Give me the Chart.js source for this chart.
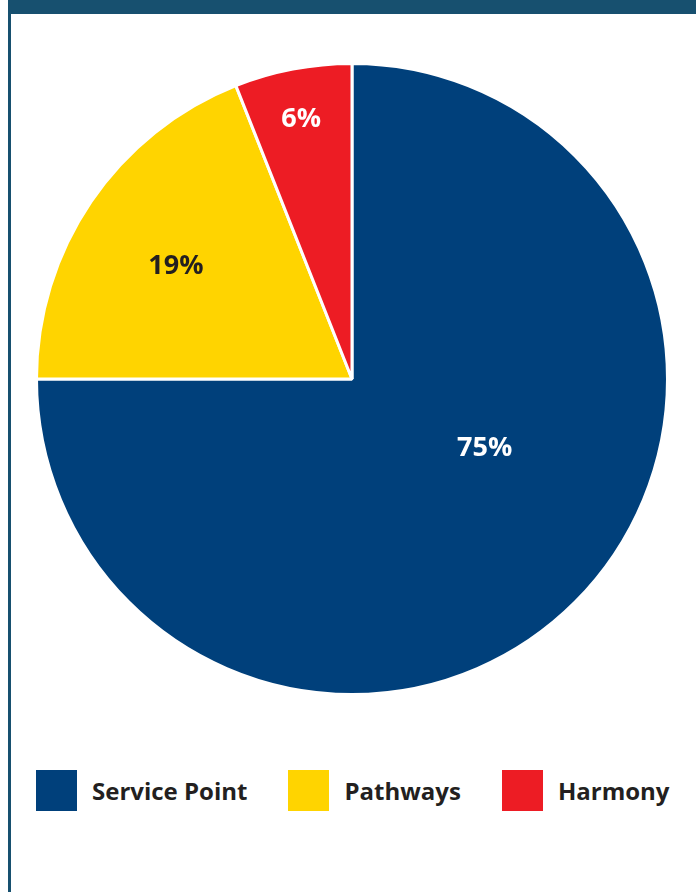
<!DOCTYPE html>
<html>
<head>
<meta charset="utf-8">
<script src="https://cdn.jsdelivr.net/npm/chart.js@4"></script>
<style>
  html, body { margin: 0; padding: 0; background: #fff; }
  body { width: 696px; height: 892px; position: relative; overflow: hidden; font-family: "Open Sans", sans-serif; }
  .top-bar { position: absolute; left: 8px; top: 0; right: 0; height: 14px; background: #17506f; }
  .side-bar { position: absolute; left: 8px; top: 14px; bottom: 0; width: 3px; background: #17506f; }
  .chart-box { position: absolute; left: 35px; top: 62px; width: 634px; height: 634px; }
  .legend { position: absolute; left: 36px; top: 770px; width: 660px; display: flex; align-items: center; white-space: nowrap; }
  .legend-item { display: flex; align-items: center; flex-shrink: 0; margin-right: 41px; }
  .legend-swatch { width: 41px; height: 41px; margin-right: 15px; flex-shrink: 0; }
  .legend-text { font-weight: 700; font-size: 24px; color: #231f20; line-height: 41px; }
</style>
</head>
<body>
<div class="top-bar"></div>
<div class="side-bar"></div>
<div class="chart-box"><canvas id="pieChart"></canvas></div>
<div class="legend" id="legend"></div>

<script>
// Share of records by system
const categories = ['Service Point', 'Pathways', 'Harmony'];
const shares = [75, 19, 6];
const sliceColors = ['#00407b', '#ffd400', '#ed1c24'];
const labelColors = ['#ffffff', '#231f20', '#ffffff'];

// where each percentage sits: fraction along the slice sweep, fraction of radius
const labelPlacement = [
  { along: 0.436, radius: 0.475 },
  { along: 0.478, radius: 0.663 },
  { along: 0.486, radius: 0.838 }
];

const pctLabels = {
  id: 'pctLabels',
  afterDatasetsDraw(chart) {
    const ctx = chart.ctx;
    const meta = chart.getDatasetMeta(0);
    ctx.save();
    ctx.font = '700 27px "Open Sans"';
    ctx.textAlign = 'center';
    ctx.textBaseline = 'middle';
    meta.data.forEach((arc, i) => {
      const p = arc.getProps(['x', 'y', 'startAngle', 'endAngle', 'outerRadius'], true);
      const place = labelPlacement[i];
      const a = p.startAngle + (p.endAngle - p.startAngle) * place.along;
      const r = p.outerRadius * place.radius;
      ctx.fillStyle = labelColors[i];
      ctx.fillText(shares[i] + '%', p.x + Math.cos(a) * r, p.y + Math.sin(a) * r);
    });
    ctx.restore();
  }
};

new Chart(document.getElementById('pieChart'), {
  type: 'pie',
  data: {
    labels: categories,
    datasets: [{
      data: shares,
      backgroundColor: sliceColors,
      borderColor: '#ffffff',
      borderWidth: 3
    }]
  },
  options: {
    responsive: true,
    maintainAspectRatio: false,
    animation: false,
    layout: { padding: 0 },
    plugins: {
      legend: { display: false },
      tooltip: { enabled: false }
    }
  },
  plugins: [pctLabels]
});

// legend below the pie
const legendEl = document.getElementById('legend');
categories.forEach((name, i) => {
  const item = document.createElement('div');
  item.className = 'legend-item';
  const sw = document.createElement('div');
  sw.className = 'legend-swatch';
  sw.style.background = sliceColors[i];
  const txt = document.createElement('span');
  txt.className = 'legend-text';
  txt.textContent = name;
  item.appendChild(sw);
  item.appendChild(txt);
  legendEl.appendChild(item);
});
</script>
</body>
</html>
